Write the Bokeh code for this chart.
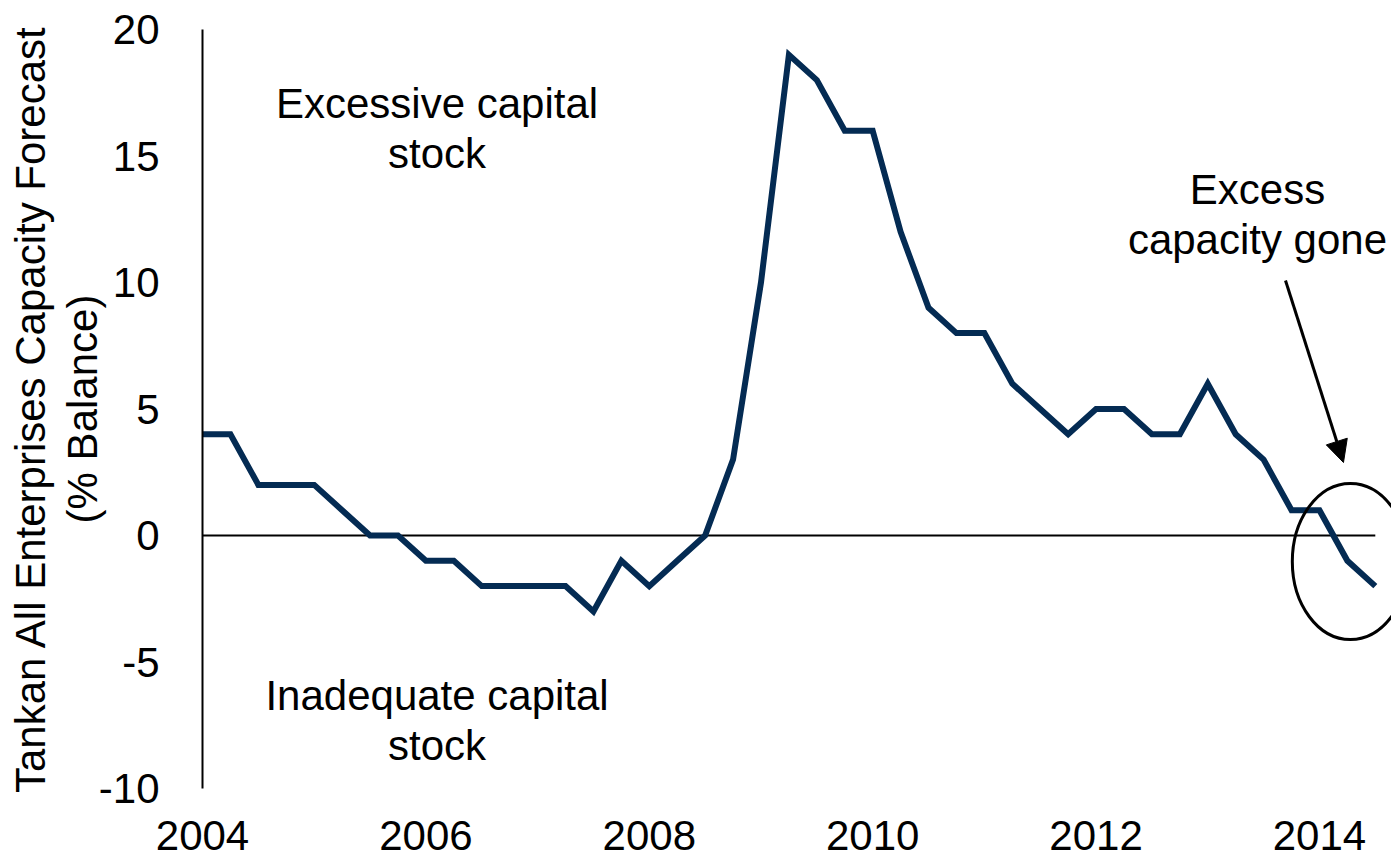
from bokeh.plotting import figure
from bokeh.models import Range1d, FixedTicker, Arrow, NormalHead, ColumnDataSource, PrintfTickFormatter
from bokeh.core.properties import value
from bokeh.embed import file_html
from bokeh.resources import INLINE

# Quarterly Tankan capacity forecast (% balance)
quarters = [
    "2004Q1", "2004Q2", "2004Q3", "2004Q4",
    "2005Q1", "2005Q2", "2005Q3", "2005Q4",
    "2006Q1", "2006Q2", "2006Q3", "2006Q4",
    "2007Q1", "2007Q2", "2007Q3", "2007Q4",
    "2008Q1", "2008Q2", "2008Q3", "2008Q4",
    "2009Q1", "2009Q2", "2009Q3", "2009Q4",
    "2010Q1", "2010Q2", "2010Q3", "2010Q4",
    "2011Q1", "2011Q2", "2011Q3", "2011Q4",
    "2012Q1", "2012Q2", "2012Q3", "2012Q4",
    "2013Q1", "2013Q2", "2013Q3", "2013Q4",
    "2014Q1", "2014Q2", "2014Q3",
]
balance = [
    4, 4, 2, 2,
    2, 1, 0, 0,
    -1, -1, -2, -2,
    -2, -2, -3, -1,
    -2, -1, 0, 3,
    10, 19, 18, 16,
    16, 12, 9, 8,
    8, 6, 5, 4,
    5, 5, 4, 4,
    6, 4, 3, 1,
    1, -1, -2,
]
x_ticks = [2004, 2006, 2008, 2010, 2012, 2014]
y_ticks = [-10, -5, 0, 5, 10, 15, 20]

years = [int(q[:4]) + (int(q[5]) - 1) * 0.25 for q in quarters]

FONT = "Liberation Sans"
FS = "42px"
LINE_COLOR = "#042b53"

p = figure(width=1391, height=859, output_backend="svg", toolbar_location=None,
           x_range=Range1d(2004, 2014.645), y_range=Range1d(-10, 20),
           min_border_left=202, min_border_right=0, min_border_top=29, min_border_bottom=71)
p.outline_line_color = None
p.xgrid.visible = False
p.ygrid.visible = False
p.background_fill_color = "white"
p.border_fill_color = "white"

# axes
p.xaxis.ticker = FixedTicker(ticks=x_ticks)
p.yaxis.ticker = FixedTicker(ticks=y_ticks)
p.xaxis.formatter = PrintfTickFormatter(format="%d")
p.yaxis.formatter = PrintfTickFormatter(format="%d")
p.xaxis.axis_line_color = None
p.xaxis.major_tick_line_color = None
p.xaxis.minor_tick_line_color = None
p.xaxis.major_label_standoff = 26
p.yaxis.axis_line_color = "black"
p.yaxis.axis_line_width = 2
p.yaxis.major_tick_line_color = None
p.yaxis.minor_tick_line_color = None
p.yaxis.major_label_standoff = 37
for ax in (p.xaxis, p.yaxis):
    ax.major_label_text_font = FONT
    ax.major_label_text_font_size = FS
    ax.major_label_text_color = "black"
p.yaxis.axis_label = "Tankan All Enterprises Capacity Forecast\n(% Balance)"
p.yaxis.axis_label_text_font = FONT
p.yaxis.axis_label_text_font_size = FS
p.yaxis.axis_label_text_font_style = "normal"
p.yaxis.axis_label_text_color = "black"
p.yaxis.axis_label_text_line_height = 1.1
p.yaxis.axis_label_standoff = -10

# zero line
p.segment(x0=[years[0]], y0=[0], x1=[years[-1]], y1=[0], line_color="black", line_width=2)

# data line
src = ColumnDataSource(dict(x=years, y=balance))
p.line("x", "y", source=src, line_color=LINE_COLOR, line_width=6, line_join="miter")

# annotations
TXT = dict(text_align="center", text_baseline="middle", text_font=value(FONT),
           text_font_size=FS, text_color="black", text_line_height=1.07)
p.text(x=[2006.10], y=[16.1], text=["Excessive capital\nstock"], **TXT)
p.text(x=[2006.10], y=[-7.31], text=["Inadequate capital\nstock"], **TXT)
p.text(x=[2013.445], y=[12.69], text=["Excess\ncapacity gone"], **TXT)

p.ellipse(x=[2014.277], y=[-1.03], width=[1.04], height=[6.17], fill_color=None,
          line_color="black", line_width=3)

p.add_layout(Arrow(end=NormalHead(size=22, fill_color="black", line_color="black"),
                   x_start=2013.696, y_start=10.08, x_end=2014.215, y_end=2.885,
                   line_color="black", line_width=3))

open("out.html", "w").write(file_html(p, INLINE))
